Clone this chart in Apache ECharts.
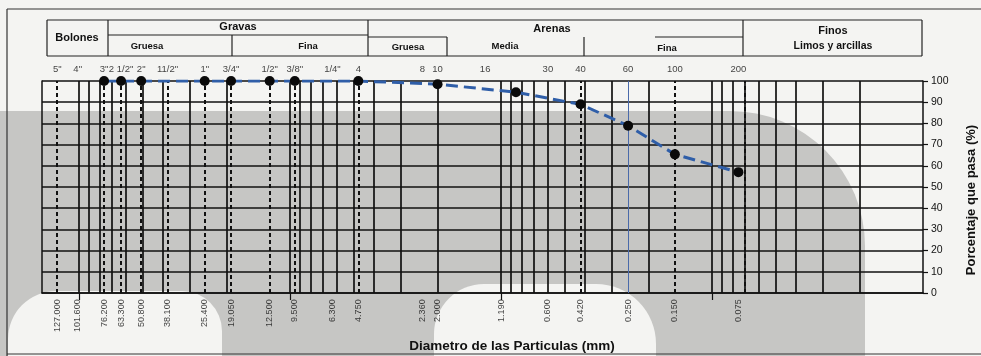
<!DOCTYPE html>
<html><head><meta charset="utf-8">
<script src="https://cdn.jsdelivr.net/npm/echarts@6/dist/echarts.min.js"></script>
<style>html,body{margin:0;padding:0;background:#f4f4f2;overflow:hidden;width:981px;height:356px}#c{width:981px;height:356px;display:block}</style>
</head><body><div id="c"></div>
<script>
// ---- data ----
const sieveNames = ['5"','4"','3"','2 1/2"','2"','11/2"','1"','3/4"','1/2"','3/8"','1/4"','4','8','10','16','30','40','60','100','200'];
const sieveMm = [127,101.6,76.2,63.3,50.8,38.1,25.4,19.05,12.5,9.5,6.3,4.75,2.36,2.0,1.19,0.6,0.42,0.25,0.15,0.075];
const mmText = ['127.000','101.600','76.200','63.300','50.800','38.100','25.400','19.050','12.500','9.500','6.300','4.750','2.360','2.000','1.190','0.600','0.420','0.250','0.150','0.075'];
const mmTextAt = [127,101.6,76.2,63.3,50.8,38.1,25.4,19.05,12.5,9.5,6.3,4.75,2.36,2.0,1.0,0.6,0.42,0.25,0.15,0.075];
const passMm = [76.2,63.3,50.8,25.4,19.05,12.5,9.5,4.75,2.0,0.85,0.42,0.25,0.15,0.075];
const passPct = [100,100,100,100,100,100,100,100,98.5,94.7,89.0,78.9,65.4,57.0];
const gridMm = [100,90,80,70,60,50,40,30,20,10,9,8,7,6,5,4,3,2,1,0.9,0.8,0.7,0.6,0.5,0.4,0.3,0.2,0.1,0.09,0.08,0.07,0.06,0.05,0.04,0.03,0.02];
const dashedMm = [127,76.2,63.3,50.8,38.1,25.4,19.05,12.5,9.5,4.75,0.42,0.15,0.075];
const blueMm = [0.25];
const decadeTicks = [100,10,1,0.1];

const FONT = '"Liberation Sans", Arial, sans-serif';
const chart = echarts.init(document.getElementById('c'), null, {renderer:'canvas', width:981, height:356});

function line(x1,y1,x2,y2,w,c){return {type:'line',silent:true,z:50,shape:{x1,y1,x2,y2},style:{stroke:c||'#222',lineWidth:w||1.2}};}
function txt(t,x,y,size,bold){return {type:'text',silent:true,z:50,style:{text:t,x,y,font:(bold?'bold ':'')+size+'px '+FONT,fill:'#111',textAlign:'center',textVerticalAlign:'middle',verticalAlign:'middle'}};}

const graphics = [
  // scan shading
  {type:'rect',silent:true,z:-100,shape:{x:0,y:111,width:865,height:245,r:[0,135,0,0]},style:{fill:'#c6c6c4'}},
  {type:'rect',silent:true,z:-99,shape:{x:8,y:291,width:214,height:65,r:[48,40,0,0]},style:{fill:'#f4f4f2'}},
  {type:'rect',silent:true,z:-99,shape:{x:434,y:284,width:222,height:72,r:[50,60,0,0]},style:{fill:'#f4f4f2'}},
  // outer frame
  line(7,9,981,9,1.2,'#333'), line(7,9,7,356,1.2,'#333'), line(7,354,981,354,1.2,'#333'),
  // header table
  line(47,20,922,20), line(47,56,922,56), line(47,20,47,56), line(922,20,922,56),
  line(108,20,108,56), line(368,20,368,56), line(743,20,743,56),
  line(108,35,368,35), line(232,35,232,56),
  line(368,37,447,37), line(447,37,447,56), line(584,37,584,56), line(655,37,743,37),
  txt('Bolones',77,38,11,true), txt('Gravas',238,27,11,true),
  txt('Gruesa',147,46,9.5,true), txt('Fina',308,46,9.5,true),
  txt('Arenas',552,29,11,true), txt('Gruesa',408,47,9.5,true),
  txt('Media',505,46,9.5,true), txt('Fina',667,48,9.5,true),
  txt('Finos',833,31,11,true), txt('Limos y arcillas',833,46,10.5,true),
  txt('Diametro de las Particulas (mm)',512,346,13.5,true)
];

function vlines(vals){return vals.map(v=>({xAxis:v}));}

const option = {
  backgroundColor:'#f4f4f2',
  animation:false,
  grid:{left:42,right:58,top:81,bottom:63,containLabel:false,outerBoundsMode:'none'},
  xAxis:{type:'log',logBase:10,min:0.01,max:150,inverse:true,
    axisLine:{show:true,onZero:false,lineStyle:{color:'#111',width:1.5}},
    axisTick:{show:true,customValues:decadeTicks,length:7,lineStyle:{color:'#111',width:1.2}},
    axisLabel:{show:false},splitLine:{show:false},minorSplitLine:{show:false}},
  yAxis:[
    {type:'value',position:'right',min:0,max:100,interval:10,
     axisLine:{show:true,lineStyle:{color:'#111',width:1.5}},
     axisTick:{show:true,length:5,lineStyle:{color:'#111',width:1.2}},
     axisLabel:{show:true,color:'#111',fontFamily:FONT,fontSize:10.5,margin:8},
     splitLine:{show:true,lineStyle:{color:'#111',width:1.7}},
     name:'Porcentaje que pasa (%)',nameLocation:'middle',nameRotate:90,nameGap:42,
     nameTextStyle:{fontFamily:FONT,fontSize:13,fontWeight:'bold',color:'#111',padding:[0,0,0,-26]}},
    {type:'value',position:'left',min:0,max:100,interval:10,
     axisLine:{show:true,lineStyle:{color:'#111',width:1.5}},axisTick:{show:false},axisLabel:{show:false},splitLine:{show:false}}
  ],
  graphic:{elements:graphics},
  series:[
    {type:'line',name:'grid',data:[],silent:true,
     markLine:{silent:true,symbol:['none','none'],label:{show:false},animation:false,
       lineStyle:{color:'#111',width:1.7,type:'solid'},data:vlines(gridMm)}},
    {type:'line',name:'dashed',data:[],silent:true,
     markLine:{silent:true,symbol:['none','none'],label:{show:false},animation:false,
       lineStyle:{color:'#111',width:2,type:[4,3]},data:vlines(dashedMm)}},
    {type:'line',name:'blue',data:[],silent:true,
     markLine:{silent:true,symbol:['none','none'],label:{show:false},animation:false,
       lineStyle:{color:'#4a6aaa',width:1,type:'solid'},data:vlines(blueMm)}},
    {type:'line',name:'pasa',data:passMm.map((m,i)=>[m,passPct[i]]),
     lineStyle:{color:'#2f5ea8',width:3,type:[12,6]},
     symbol:'circle',symbolSize:10,itemStyle:{color:'#0a0a0a'},z:10},
    {type:'scatter',name:'top',clip:false,silent:true,symbolSize:0,
     data:sieveMm.map(m=>[m,105.3]),
     label:{show:true,position:'inside',formatter:p=>sieveNames[p.dataIndex],
       color:'#111',fontFamily:FONT,fontSize:9.5}},
    {type:'scatter',name:'bottom',clip:false,silent:true,symbolSize:0,
     data:mmTextAt.map(m=>[m,-3]),
     label:{show:true,position:'inside',rotate:90,align:'right',verticalAlign:'middle',
       formatter:p=>mmText[p.dataIndex],color:'#111',fontFamily:FONT,fontSize:9}}
  ]
};
chart.setOption(option);
</script></body></html>
